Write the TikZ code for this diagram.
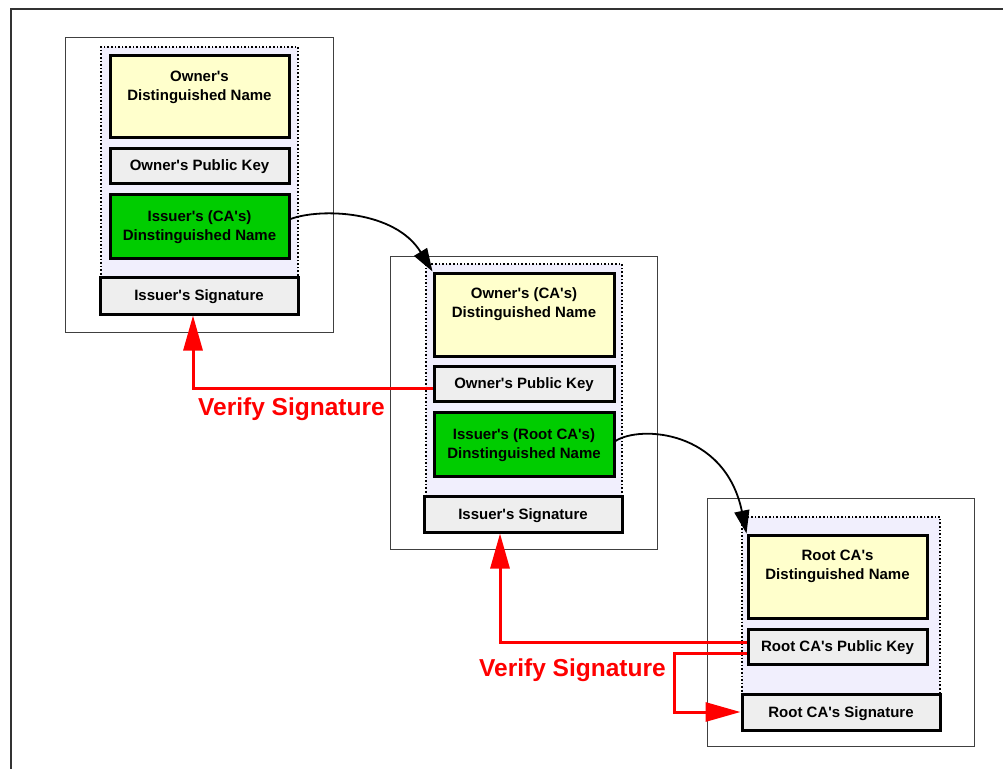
\documentclass[tikz,border=0pt]{standalone}
\usepackage{fontspec}
\setmainfont{Liberation Sans}[Ligatures=TeXOff]
\usetikzlibrary{arrows.meta}
\definecolor{dnyellow}{HTML}{FFFFCC}
\definecolor{keygray}{HTML}{EEEEEE}
\definecolor{issgreen}{HTML}{00CC00}
\definecolor{lav}{HTML}{F1EFFD}
\definecolor{framegray}{HTML}{333333}
\newcommand{\certbox}[7]{\node[#1, minimum width={#5-#3-2}, minimum height={#6-#4-2}] (#2) at ({(#3+#5)/2},{(#4+#6)/2}) {#7};}
\tikzset{
  txt/.style={font=\bfseries\fontsize{15}{19}\selectfont, align=center, text=black},
  fieldbox/.style={draw=black, line width=3pt, inner sep=0pt, text depth=0pt, txt},
  dnbox/.style={fieldbox, fill=dnyellow},
  keybox/.style={fieldbox, fill=keygray},
  greenbox/.style={fieldbox, fill=issgreen},
  sigbox/.style={fieldbox, fill=keygray},
  certframe/.style={draw=black!75, line width=1pt, fill=white, inner sep=0pt},
  signedarea/.style={draw=black, dotted, line width=1.6pt, fill=lav, inner sep=0pt},
  dnlabel/.style={txt, inner sep=0pt, anchor=north},
  verifyarrow/.style={draw=red, line width=3pt, -{Triangle[length=35pt,width=19pt]}},
  chainarrow/.style={draw=black, line width=1.8pt, -{Triangle[length=23pt,width=15pt]}},
  verifytext/.style={text=red, font=\bfseries\fontsize{24.5}{28}\selectfont, inner sep=0pt, anchor=base west}
}
\begin{document}
\begin{tikzpicture}[x=1pt,y=-1pt]
\useasboundingbox (0,0) rectangle (1003,768);
\fill[white] (0,0) rectangle (1003,768);
\draw[framegray, line width=2pt] (11,9) rectangle (1020,790);

% certificate 1
\certbox{certframe}{O1}{64}{37}{334}{333}{}
\certbox{signedarea}{D1}{100}{46}{299}{292}{}
\certbox{dnbox}{DN1}{109}{55}{290}{138}{}
\node[dnlabel] (DN1t) at ([yshift=-16pt]DN1.north) {Owner's\\Distinguished Name};
\certbox{keybox}{PK1}{109}{147}{290}{184}{Owner's Public Key}
\certbox{greenbox}{IDN1}{109}{193}{290}{259}{Issuer's (CA's)\\Dinstinguished Name}
\certbox{sigbox}{SIG1}{99}{276}{299}{315}{Issuer's Signature}

% certificate 2
\certbox{certframe}{O2}{389}{255}{658}{550}{}
\certbox{signedarea}{D2}{425}{263}{623}{510}{}
\certbox{dnbox}{DN2}{433}{272}{615}{357}{}
\node[dnlabel] (DN2t) at ([yshift=-16pt]DN2.north) {Owner's (CA's)\\Distinguished Name};
\certbox{keybox}{PK2}{433}{365}{615}{402}{Owner's Public Key}
\certbox{greenbox}{IDN2}{433}{411}{615}{477}{Issuer's (Root CA's)\\Dinstinguished Name}
\certbox{sigbox}{SIG2}{423}{495}{623}{533}{Issuer's Signature}

% certificate 3
\certbox{certframe}{O3}{706}{497}{975}{747}{}
\certbox{signedarea}{D3}{741}{516}{941}{705}{}
\certbox{dnbox}{DN3}{747}{534}{928}{619}{}
\node[dnlabel] (DN3t) at ([yshift=-16pt]DN3.north) {Root CA's\\Distinguished Name};
\certbox{keybox}{PK3}{747}{628}{928}{665}{Root CA's Public Key}
\certbox{sigbox}{SIG3}{741}{693}{941}{731}{Root CA's Signature}

% chain arrows
\draw[chainarrow] ([yshift=7pt]IDN1.east) .. controls (320,208) and (395,210) .. (DN2.north west);
\draw[chainarrow] ([yshift=3pt]IDN2.east) .. controls (640,425) and (725,430) .. (DN3.north west);

% verify arrows
\draw[verifyarrow] ([yshift=-4.5pt]PK2.west) -| ([xshift=-6pt]SIG1.south);
\node[verifytext] (V1) at (198,415) {Verify Signature};

\draw[verifyarrow] ([yshift=4.5pt]PK3.west) -| ([xshift=-23pt]SIG2.south);
\coordinate (bend3) at (674,653);
\draw[verifyarrow] ([yshift=-6.5pt]PK3.west) -- (bend3) |- (SIG3.west);
\node[verifytext] (V2) at (479,676) {Verify Signature};
\end{tikzpicture}
\end{document}
